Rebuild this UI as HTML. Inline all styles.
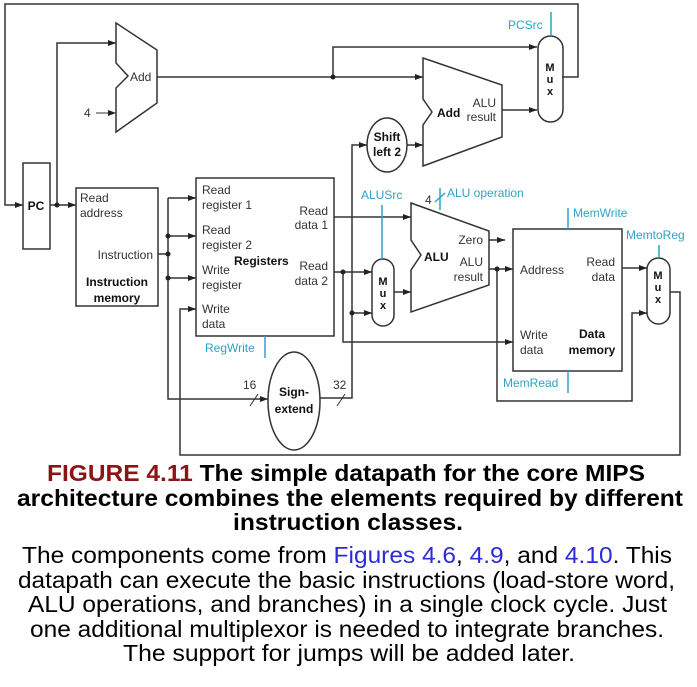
<!DOCTYPE html>
<html><head><meta charset="utf-8"><style>
html,body{margin:0;padding:0;background:#fff}
svg{display:block}
text{font-family:"Liberation Sans",Arial,sans-serif}
.s{font-size:12px;fill:#333}
.b{font-size:12px;font-weight:bold;fill:#111}
.c{font-size:12px;fill:#2ea3c6}
.cap{font-size:23px;fill:#000}
</style></head><body>
<svg width="697" height="687" viewBox="0 0 697 687" xmlns="http://www.w3.org/2000/svg">
<defs><marker id="a" markerWidth="8" markerHeight="6" refX="8" refY="3" orient="auto" markerUnits="userSpaceOnUse"><path d="M0,0 L8,3 L0,6 z" fill="#222"/></marker></defs>
<g fill="none" stroke="#333" stroke-width="1.5">
<polyline points="562,77 578,77 578,4 5,4 5,205 23,205" marker-end="url(#a)"/>
<rect x="23" y="163" width="27" height="86"/>
<line x1="50" y1="205" x2="76" y2="205" marker-end="url(#a)"/>
<polyline points="57,205 57,43 116,43" marker-end="url(#a)"/>
<line x1="96" y1="113" x2="116" y2="113" stroke-width="1" marker-end="url(#a)"/>
<path d="M116,23 L157,50 L157,103 L116,132 L116,88 L128,76 L116,63 Z"/>
<line x1="157" y1="77" x2="423" y2="77" marker-end="url(#a)"/>
<polyline points="333,77 333,47 537,47" marker-end="url(#a)"/>
<path d="M423,58 L502,85 L502,137 L423,166 L423,125 L432,112 L423,99 Z"/>
<line x1="502" y1="110" x2="537" y2="110" marker-end="url(#a)"/>
<rect x="538" y="36" width="25" height="86" rx="12.5"/>
<ellipse cx="387" cy="145" rx="20" ry="27"/>
<line x1="407" y1="145" x2="423" y2="145" marker-end="url(#a)"/>
<polyline points="320,398 352,398 352,145 367,145" marker-end="url(#a)"/>
<rect x="76" y="188" width="82" height="118"/>
<line x1="158" y1="254" x2="168" y2="254"/>
<polyline points="168,198 168,399 268,399" marker-end="url(#a)"/>
<line x1="168" y1="198" x2="196" y2="198" marker-end="url(#a)"/>
<line x1="168" y1="236" x2="196" y2="236" marker-end="url(#a)"/>
<line x1="168" y1="278" x2="196" y2="278" marker-end="url(#a)"/>
<rect x="196" y="178" width="138" height="158"/>
<polyline points="670,292 680,292 680,455 180,455 180,309 196,309" marker-end="url(#a)"/>
<ellipse cx="294" cy="401" rx="26" ry="49"/>
<line x1="250" y1="406" x2="258" y2="394" stroke-width="1"/>
<line x1="337" y1="406" x2="345" y2="394" stroke-width="1"/>
<line x1="334" y1="217" x2="411" y2="217" marker-end="url(#a)"/>
<line x1="334" y1="272" x2="372" y2="272" marker-end="url(#a)"/>
<polyline points="343,272 343,342 513,342" marker-end="url(#a)"/>
<line x1="352" y1="313" x2="372" y2="313" marker-end="url(#a)"/>
<rect x="372" y="259" width="22" height="67" rx="11"/>
<line x1="394" y1="292" x2="411" y2="292" marker-end="url(#a)"/>
<path d="M411,203 L489,231 L489,285 L411,312 L411,270 L421,255 L411,240 Z"/>
<line x1="489" y1="240" x2="505" y2="240" marker-end="url(#a)"/>
<line x1="489" y1="269" x2="513" y2="269" marker-end="url(#a)"/>
<polyline points="497,269 497,401 632,401 632,313 647,313" marker-end="url(#a)"/>
<rect x="513" y="229" width="109" height="142"/>
<line x1="622" y1="268" x2="647" y2="268" marker-end="url(#a)"/>
<rect x="647" y="258" width="23" height="66" rx="11.5"/>
</g>
<g fill="#222">
<circle cx="57" cy="205" r="2.5"/><circle cx="333" cy="77" r="2.5"/>
<circle cx="168" cy="254" r="2.5"/><circle cx="168" cy="236" r="2.5"/><circle cx="168" cy="278" r="2.5"/>
<circle cx="343" cy="272" r="2.5"/><circle cx="352" cy="313" r="2.5"/><circle cx="497" cy="269" r="2.5"/>
</g>
<g stroke="#2ea3c6" stroke-width="1.5">
<line x1="551" y1="12" x2="551" y2="36"/>
<line x1="265" y1="336" x2="265" y2="358"/>
<line x1="382" y1="205" x2="382" y2="259"/>
<line x1="440" y1="188" x2="440" y2="210"/>
<line x1="435" y1="202" x2="445" y2="193"/>
<line x1="568" y1="208" x2="568" y2="229"/>
<line x1="568" y1="371" x2="568" y2="393"/>
<line x1="659" y1="245" x2="659" y2="258"/>
</g>
<text class="b" x="36" y="210" text-anchor="middle">PC</text>
<text class="s" x="130" y="81">Add</text>
<text class="s" x="84" y="117">4</text>
<text class="s" x="80" y="202">Read</text>
<text class="s" x="80" y="217">address</text>
<text class="s" x="153" y="259" text-anchor="end">Instruction</text>
<text class="b" x="117" y="286" text-anchor="middle">Instruction</text>
<text class="b" x="117" y="302" text-anchor="middle">memory</text>
<text class="s" x="202" y="194">Read</text>
<text class="s" x="202" y="209">register 1</text>
<text class="s" x="202" y="234">Read</text>
<text class="s" x="202" y="249">register 2</text>
<text class="s" x="202" y="274">Write</text>
<text class="s" x="202" y="289">register</text>
<text class="s" x="202" y="313">Write</text>
<text class="s" x="202" y="328">data</text>
<text class="b" x="234" y="265">Registers</text>
<text class="s" x="328" y="215" text-anchor="end">Read</text>
<text class="s" x="328" y="229" text-anchor="end">data 1</text>
<text class="s" x="328" y="270" text-anchor="end">Read</text>
<text class="s" x="328" y="285" text-anchor="end">data 2</text>
<text class="b" x="294" y="396" text-anchor="middle">Sign-</text>
<text class="b" x="294" y="413" text-anchor="middle">extend</text>
<text class="s" x="243" y="389">16</text>
<text class="s" x="333" y="389">32</text>
<text class="b" x="387" y="141" text-anchor="middle">Shift</text>
<text class="b" x="387" y="156" text-anchor="middle">left 2</text>
<text class="b" x="437" y="117">Add</text>
<text class="s" x="496" y="107" text-anchor="end">ALU</text>
<text class="s" x="496" y="121" text-anchor="end">result</text>
<g class="b" style="font-size:11px" text-anchor="middle">
<text x="550" y="71">M</text><text x="550" y="83">u</text><text x="550" y="95">x</text>
<text x="383" y="285">M</text><text x="383" y="297">u</text><text x="383" y="309">x</text>
<text x="658" y="279">M</text><text x="658" y="291">u</text><text x="658" y="303">x</text>
</g>
<text class="b" x="424" y="261">ALU</text>
<text class="s" x="483" y="244" text-anchor="end">Zero</text>
<text class="s" x="483" y="266" text-anchor="end">ALU</text>
<text class="s" x="483" y="281" text-anchor="end">result</text>
<text class="s" x="520" y="274">Address</text>
<text class="s" x="615" y="266" text-anchor="end">Read</text>
<text class="s" x="615" y="281" text-anchor="end">data</text>
<text class="s" x="520" y="339">Write</text>
<text class="s" x="520" y="354">data</text>
<text class="b" x="592" y="338" text-anchor="middle">Data</text>
<text class="b" x="592" y="354" text-anchor="middle">memory</text>
<text class="c" x="508" y="29">PCSrc</text>
<text class="c" x="205" y="352">RegWrite</text>
<text class="c" x="361" y="199">ALUSrc</text>
<text class="s" x="425" y="204" style="fill:#333">4</text>
<text class="c" x="447" y="197">ALU operation</text>
<text class="c" x="573" y="217">MemWrite</text>
<text class="c" x="626" y="239">MemtoReg</text>
<text class="c" x="503" y="387">MemRead</text>
<g class="cap">
<text x="47" y="481" textLength="598" lengthAdjust="spacingAndGlyphs" font-weight="bold"><tspan fill="#8b1515">FIGURE 4.11</tspan><tspan>   The simple datapath for the core MIPS</tspan></text>
<text x="17" y="506" textLength="666" lengthAdjust="spacingAndGlyphs" font-weight="bold">architecture combines the elements required by different</text>
<text x="233" y="530" textLength="230" lengthAdjust="spacingAndGlyphs" font-weight="bold">instruction classes.</text>
<text x="22" y="563" textLength="650" lengthAdjust="spacingAndGlyphs">The components come from <tspan fill="#2b2bd8">Figures 4.6</tspan>, <tspan fill="#2b2bd8">4.9</tspan>, and <tspan fill="#2b2bd8">4.10</tspan>. This</text>
<text x="18" y="588" textLength="657" lengthAdjust="spacingAndGlyphs">datapath can execute the basic instructions (load-store word,</text>
<text x="28" y="612" textLength="639" lengthAdjust="spacingAndGlyphs">ALU operations, and branches) in a single clock cycle. Just</text>
<text x="30" y="637" textLength="634" lengthAdjust="spacingAndGlyphs">one additional multiplexor is needed to integrate branches.</text>
<text x="123" y="661" textLength="452" lengthAdjust="spacingAndGlyphs">The support for jumps will be added later.</text>
</g>
</svg>
</body></html>
